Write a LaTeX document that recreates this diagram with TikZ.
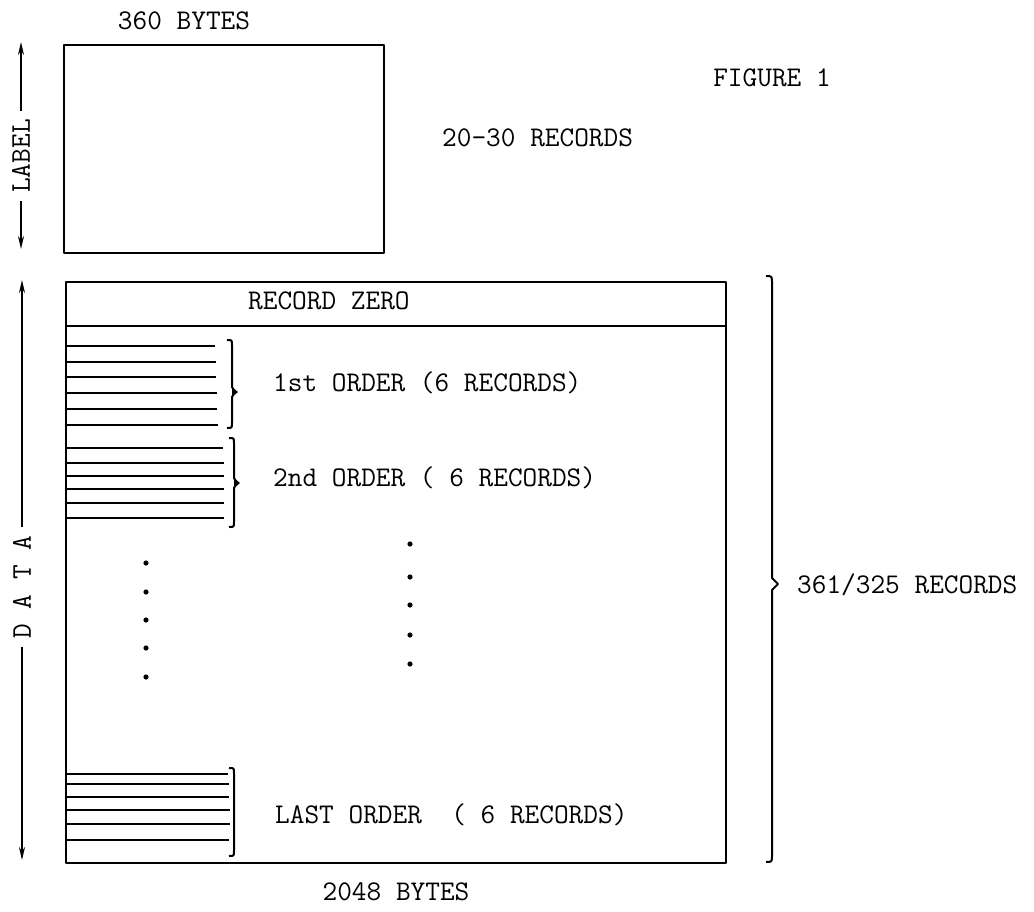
\documentclass[tikz,border=0pt]{standalone}
\usetikzlibrary{arrows.meta}
\begin{document}
\begin{tikzpicture}[x=1pt,y=-1pt,line join=round,
  txt/.style={font=\fontsize{28.5}{32}\ttfamily, inner sep=0pt},
  vtxt/.style={txt, rotate=90, inner xsep=8pt},
  box/.style={draw, line width=2.2pt, inner sep=0pt, anchor=north west},
  arr/.style={line width=1.8pt, -{Stealth[length=13pt,width=6pt]}},
  rec/.style={line width=2.8pt},
  br/.style={line width=2pt},
  tipfill/.style={fill=black}
]
\useasboundingbox (0,0) rectangle (1034,911);

% boxes
\node[box, minimum width=320pt, minimum height=208pt] (labelbox) at (63,44) {};
\node[box, minimum width=660pt, minimum height=581pt] (databox) at (65,281) {};
\draw[line width=2.2pt] (databox.west |- 0,326) -- (databox.east |- 0,326);

% texts
\node[txt] (bytes1) at (184,21) {360 BYTES};
\node[txt] (fig) at (772,78) {FIGURE 1};
\node[txt, anchor=west] (rec2030) at (442,138) {20-30 RECORDS};
\node[txt, anchor=west] (rzero) at (248,301) {RECORD ZERO};
\node[txt, anchor=west] (o1) at (273,383) {1st ORDER (6 RECORDS)};
\node[txt, anchor=west] (o2) at (273,478) {2nd ORDER ( 6 RECORDS)};
\node[txt, anchor=west] (olast) at (275,815) {LAST ORDER\ \ ( 6 RECORDS)};
\node[txt] (b2048) at (396,892) {2048 BYTES};
\node[txt, anchor=west] (r361) at (797,585) {361/325 RECORDS};

% vertical labels with arrows
\node[vtxt] (lbl) at (21,156) {LABEL};
\coordinate (lblTop) at (21,42);
\coordinate (lblBot) at (21,249);
\draw[arr] (lbl.east) -- (lblTop);
\draw[arr] (lbl.west) -- (lblBot);

\node[vtxt] (dat) at (22,587) {D A T A};
\coordinate (datTop) at (22,280);
\coordinate (datBot) at (22,860);
\draw[arr] (dat.east) -- (datTop);
\draw[arr] (dat.west) -- (datBot);

% record lines group 1
\foreach \y/\e in {346/215,362/216,377/216,393/217,409/217,425/218}
  \draw[rec] (databox.west |- 0,\y) -- (\e,\y);
% group 2
\foreach \y/\e in {448/223,463/224,476/224,489/224,503/224,518/224}
  \draw[rec] (databox.west |- 0,\y) -- (\e,\y);
% last group
\foreach \y/\e in {774/228,784/229,797/229,810/230,824/230,840/229}
  \draw[rec] (databox.west |- 0,\y) -- (\e,\y);

% small braces
\draw[br] (227,340) .. controls (232,340) .. (232,345) -- (232,387) -- (235,392) -- (232,397) -- (232,423) .. controls (232,428) .. (227,428);
\fill[tipfill] (232,387) -- (238,392) -- (232,397) -- cycle;
\draw[br] (229,438) .. controls (234,438) .. (234,443) -- (234,478) -- (237,483) -- (234,488) -- (234,522) .. controls (234,527) .. (229,527);
\fill[tipfill] (234,478) -- (240,483) -- (234,488) -- cycle;
\draw[br] (229,768) .. controls (234,768) .. (234,773) -- (234,851) .. controls (234,856) .. (229,856);

% big brace
\draw[br] (766,276) .. controls (772,276) .. (772,283) -- (772,578) -- (778,584) -- (772,590) -- (772,855) .. controls (772,862) .. (766,862);

% dots
\foreach \y in {563,592,620,648,677}
  \fill (146,\y) circle (2.6pt);
\foreach \y in {544,577,605,635,664}
  \fill (410,\y) circle (2.6pt);
\end{tikzpicture}
\end{document}
